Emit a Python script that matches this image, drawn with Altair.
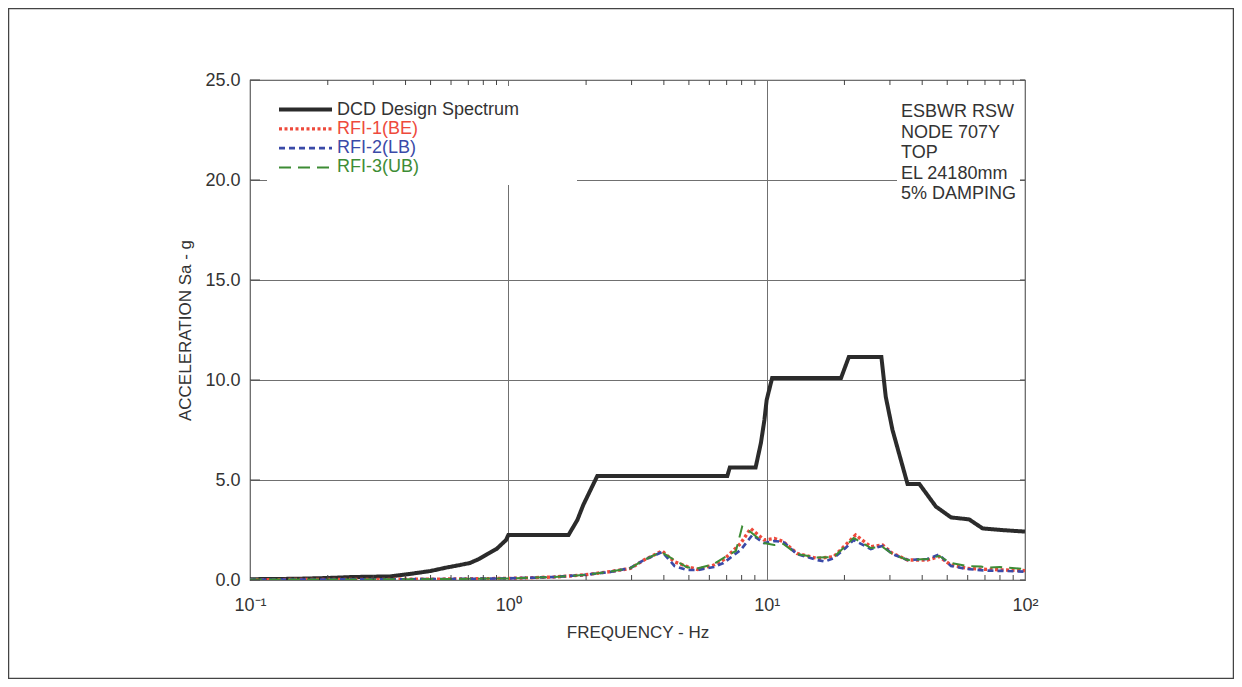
import altair as alt
import pandas as pd

FONT = "Liberation Sans"
TXT = "#333333"

SERIES = ["DCD Design Spectrum", "RFI-1(BE)", "RFI-2(LB)", "RFI-3(UB)"]
COLORS = ["#2b2b2b", "#ee4a3c", "#3a4aa8", "#3d8c35"]
DASHES = [[1, 0], [3, 2.5], [6, 4], [12, 7]]
WIDTHS = [4, 2, 2, 2]

# DCD design spectrum
dcd_f = [0.1, 0.15, 0.2, 0.25, 0.35, 0.43, 0.5, 0.58, 0.65, 0.71, 0.77, 0.83, 0.9, 0.98, 1.0,
         1.71, 1.85, 1.95, 2.21, 7.04, 7.2, 9.06, 9.5, 9.8, 10.0, 10.5, 19.4, 20.8, 27.8, 28.9,
         30.7, 35.1, 39.0, 45.2, 51.7, 60.8, 68.5, 80.7, 100]
dcd_v = [0.04, 0.06, 0.1, 0.15, 0.18, 0.33, 0.45, 0.63, 0.75, 0.85, 1.05, 1.3, 1.55, 2.0, 2.25,
         2.25, 3.0, 3.75, 5.2, 5.2, 5.62, 5.62, 6.85, 8.0, 9.0, 10.1, 10.1, 11.15, 11.15, 9.17,
         7.5, 4.8, 4.8, 3.67, 3.13, 3.03, 2.58, 2.5, 2.42]

# RFI-1 (BE)
rfi1_f = [0.1, 0.3, 0.6, 1.0, 1.5, 1.95, 2.48, 2.97, 3.35, 3.94, 4.38, 4.93, 5.4, 6.25, 6.8,
          7.93, 8.67, 9.77, 10.7, 11.6, 13.1, 15.7, 18.2, 20.2, 22.1, 25.3, 28.1, 30.7, 35.1,
          41.9, 46.5, 51.7, 59.8, 71, 85, 100]
rfi1_v = [0.02, 0.03, 0.05, 0.08, 0.15, 0.25, 0.42, 0.58, 1.0, 1.45, 0.92, 0.67, 0.53, 0.75, 1.0,
          1.83, 2.58, 2.0, 2.08, 1.92, 1.33, 1.08, 1.17, 1.75, 2.25, 1.67, 1.75, 1.33, 1.0,
          1.0, 1.17, 0.75, 0.58, 0.53, 0.5, 0.47]

# RFI-2 (LB)
rfi2_f = [0.1, 0.3, 0.6, 1.0, 1.5, 1.95, 2.48, 2.97, 3.35, 3.94, 4.4, 4.9, 5.4, 6.25, 6.8,
          7.93, 8.8, 9.77, 10.7, 11.6, 13.1, 15.7, 16.8, 18.2, 20.2, 21.7, 25.3, 28.1, 30.7,
          35.1, 41.9, 46.5, 51.7, 59.8, 71, 85, 100]
rfi2_v = [0.02, 0.03, 0.05, 0.08, 0.15, 0.25, 0.4, 0.6, 1.0, 1.4, 0.7, 0.5, 0.5, 0.65, 0.85,
          1.5, 2.25, 1.85, 1.95, 1.9, 1.3, 1.0, 0.92, 1.1, 1.6, 2.0, 1.55, 1.7, 1.3,
          1.0, 1.05, 1.27, 0.7, 0.55, 0.47, 0.45, 0.42]

# RFI-3 (UB)
rfi3_f = [0.1, 0.3, 0.6, 1.0, 1.5, 1.95, 2.48, 2.97, 3.35, 3.9, 4.4, 4.9, 5.3, 6.25, 7.0,
          7.6, 8.04, 8.67, 9.77, 10.7, 11.6, 13.1, 15.7, 18.2, 20.2, 21.7, 25.3, 28.1, 30.7,
          35.1, 41.9, 46.5, 51.7, 59.8, 67.5, 71, 80, 85, 100]
rfi3_v = [0.02, 0.03, 0.05, 0.08, 0.15, 0.25, 0.42, 0.6, 1.0, 1.4, 1.0, 0.65, 0.55, 0.8, 1.2,
          1.45, 2.67, 2.4, 1.85, 1.75, 1.8, 1.3, 1.13, 1.15, 1.7, 2.1, 1.6, 1.65, 1.3,
          1.0, 1.05, 1.2, 0.85, 0.7, 0.67, 0.62, 0.65, 0.62, 0.55]

minor_ticks = [0.2, 0.3, 0.4, 0.5, 0.6, 0.7, 0.8, 0.9,
               2, 3, 4, 5, 6, 7, 8, 9,
               20, 30, 40, 50, 60, 70, 80, 90]
y_tick_values = [0, 5, 10, 15, 20, 25]
x_label_values = [0.1, 1, 10, 100]
note_lines = ["ESBWR RSW", "NODE 707Y", "TOP", "EL 24180mm", "5% DAMPING"]

rows = []
for name, fs, vs in [(SERIES[0], dcd_f, dcd_v), (SERIES[1], rfi1_f, rfi1_v),
                     (SERIES[2], rfi2_f, rfi2_v), (SERIES[3], rfi3_f, rfi3_v)]:
    for i, (f, v) in enumerate(zip(fs, vs)):
        rows.append({"series": name, "f": f, "v": v, "i": i})
df = pd.DataFrame(rows)

W, H = 775, 500

xs = alt.Scale(type="log", domain=[0.1, 100], nice=False)
ys = alt.Scale(domain=[0, 25], nice=False, zero=True)

xaxis = alt.Axis(
    values=x_label_values, grid=True, ticks=False, tickSize=0, domain=False,
    labelExpr="datum.value < 0.5 ? '10\u207b\u00b9' : datum.value < 5 ? '10\u2070' : datum.value < 50 ? '10\u00b9' : '10\u00b2'",
    labelFlush=False, labelOverlap=False, labelBaseline="alphabetic", labelPadding=30,
    labelFontSize=18, title="FREQUENCY - Hz", titleX=W / 2, titleY=52,
    titleBaseline="middle", titleAnchor="middle", titleFontSize=17,
)
yaxis = alt.Axis(
    values=y_tick_values, grid=True, ticks=False, tickSize=0, domain=False,
    format=".1f", labelPadding=10, labelFontSize=18, labelOverlap=False,
    title="ACCELERATION Sa - g", titleX=-65, titleY=H / 2, titleAngle=270,
    titleBaseline="middle", titleAnchor="middle", titleFontSize=17,
)

X = alt.X("f:Q", scale=xs, axis=xaxis)
Y = alt.Y("v:Q", scale=ys, axis=yaxis)

label_expr = ("datum.value == 'RFI-1(BE)' ? '#ee4a3c' : datum.value == 'RFI-2(LB)' ? '#3a4aa8' : "
              "datum.value == 'RFI-3(UB)' ? '#3d8c35' : '#333333'")
legend = alt.Legend(
    orient="none", legendX=17, legendY=10.5, title=None, symbolType="stroke",
    symbolSize=2809, clipHeight=18, rowPadding=1.3, padding=10, labelOffset=3,
    labelFontSize=18, labelFont=FONT, labelColor={"expr": label_expr}, labelLimit=400,
)

one = pd.DataFrame({"k": [0]})

frame = alt.Chart(one).mark_rect(filled=False, stroke="#444444", strokeWidth=1.5).encode(
    x=alt.value(-241.5), x2=alt.value(983.5), y=alt.value(-71.5), y2=alt.value(598.5)
)
legend_bg = alt.Chart(one).mark_rect(fill="white").encode(
    x=alt.value(17), x2=alt.value(327), y=alt.value(6), y2=alt.value(105)
)
note_bg = alt.Chart(one).mark_rect(fill="white").encode(
    x=alt.value(647), x2=alt.value(770), y=alt.value(15), y2=alt.value(121)
)

tick_df = pd.DataFrame({"f": minor_ticks})
xticks_bottom = alt.Chart(tick_df).mark_rule(color="#444444", strokeWidth=1).encode(
    x=X, y=alt.value(H), y2=alt.value(H - 5)
)
xticks_top = alt.Chart(tick_df).mark_rule(color="#444444", strokeWidth=1).encode(
    x=X, y=alt.value(0), y2=alt.value(5)
)
ytick_df = pd.DataFrame({"v": y_tick_values})
yticks_left = alt.Chart(ytick_df).mark_rule(color="#444444", strokeWidth=1).encode(
    y=Y, x=alt.value(0), x2=alt.value(10)
)
yticks_right = alt.Chart(ytick_df).mark_rule(color="#444444", strokeWidth=1).encode(
    y=Y, x=alt.value(W), x2=alt.value(W - 5)
)

lines = alt.Chart(df).mark_line(clip=True).encode(
    x=X, y=Y,
    color=alt.Color("series:N", scale=alt.Scale(domain=SERIES, range=COLORS), legend=legend),
    strokeDash=alt.StrokeDash("series:N", scale=alt.Scale(domain=SERIES, range=DASHES), legend=legend),
    strokeWidth=alt.StrokeWidth("series:N", scale=alt.Scale(domain=SERIES, range=WIDTHS), legend=legend),
    order="i:Q",
    detail="series:N",
)

note = alt.Chart(one).mark_text(
    align="left", baseline="top", lineHeight=20.5, fontSize=18, font=FONT, color=TXT
).encode(x=alt.value(651), y=alt.value(23), text=alt.value(note_lines))

chart = alt.layer(
    lines, legend_bg, note_bg, xticks_bottom, xticks_top, yticks_left, yticks_right, note, frame
).properties(
    width=W, height=H,
    autosize=alt.AutoSizeParams(type="none"),
    padding={"left": 242, "top": 72, "right": 209, "bottom": 99},
).configure(
    background="white",
).configure_view(
    stroke="#555555", strokeWidth=1.2
).configure_axis(
    gridColor="#707070", gridWidth=1, gridOpacity=1,
    labelColor=TXT, titleColor=TXT, labelFont=FONT, titleFont=FONT, titleFontWeight="normal",
)

chart.save("out.html", embed_options={"renderer": "svg", "actions": False})
